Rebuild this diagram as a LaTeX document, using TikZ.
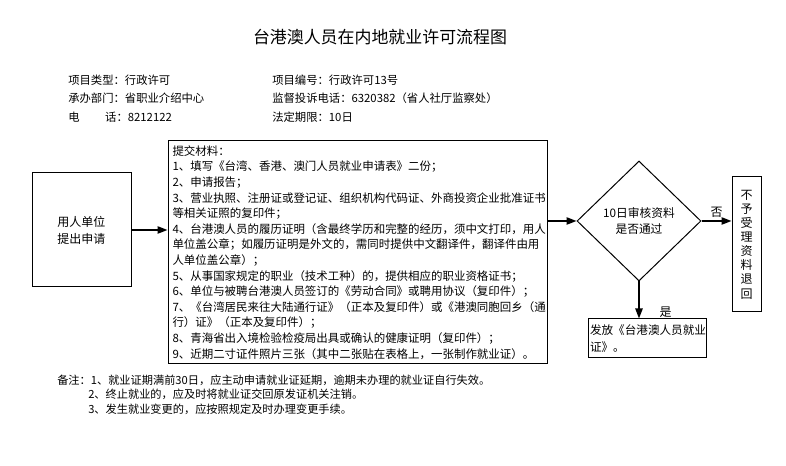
\documentclass[tikz,border=0pt]{standalone}
\usepackage{fontspec}
\setmainfont{Noto Sans CJK SC}
\usetikzlibrary{shapes.geometric,arrows.meta}
\begin{document}
\begin{tikzpicture}[x=0.75pt,y=-0.75pt,
  box/.style={draw, line width=0.75pt, inner sep=0},
  arr/.style={-{Triangle[length=7.5pt,width=5.5pt]}, line width=1.1pt},
  info/.style={inner sep=0, anchor=west, font=\fontsize{8.5pt}{10pt}\selectfont},
  note/.style={inner sep=0, anchor=west, font=\fontsize{8.4pt}{10pt}\selectfont},
  lbl/.style={inner sep=0, font=\fontsize{9pt}{10pt}\selectfont}]
\useasboundingbox[fill=white] (0,0) rectangle (786,466);

\node[inner sep=0, font=\fontsize{12.7pt}{14pt}\selectfont] (title) at (380,37) {台港澳人员在内地就业许可流程图};

\node[info] (i1) at (68,80) {项目类型：行政许可};
\node[info] (i2) at (68,98) {承办部门：省职业介绍中心};
\node[info] (i3) at (68,117) {电\hspace{19.2pt}话：8212122};
\node[info] (i4) at (272,80) {项目编号：行政许可13号};
\node[info] (i5) at (272,98) {监督投诉电话：6320382（省人社厅监察处）};
\node[info] (i6) at (272,117) {法定期限：10日};

\node[box, minimum width=74.25pt, minimum height=85.5pt, align=center,
      font=\fontsize{9pt}{12.75pt}\selectfont] (apply) at (81.5,230) {用人单位\\提出申请};

\node[box, minimum width=284.25pt, minimum height=167.25pt, text width=277.5pt, align=left,
      font=\fontsize{8.6pt}{11.7pt}\selectfont] (mat) at (357.5,252.5) {提交材料：\\
1、填写《台湾、香港、澳门人员就业申请表》二份；\\
2、申请报告；\\
3、营业执照、注册证或登记证、组织机构代码证、外商投资企业批准证书\\
等相关证照的复印件；\\
4、台港澳人员的履历证明（含最终学历和完整的经历，须中文打印，用人\\
单位盖公章；如履历证明是外文的，需同时提供中文翻译件，翻译件由用\\
人单位盖公章）；\\
5、从事国家规定的职业（技术工种）的，提供相应的职业资格证书；\\
6、单位与被聘台港澳人员签订的《劳动合同》或聘用协议（复印件）；\\
7、《台湾居民来往大陆通行证》（正本及复印件）或《港澳同胞回乡（通\\
行）证》（正本及复印件）；\\
8、青海省出入境检验检疫局出具或确认的健康证明（复印件）；\\
9、近期二寸证件照片三张（其中二张贴在表格上，一张制作就业证）。};

\node[box, diamond, minimum width=93pt, minimum height=90pt, align=center,
      font=\fontsize{8.8pt}{11.5pt}\selectfont] (check) at (639,221) {10日审核资料\\是否通过};

\node[box, minimum width=21.75pt, minimum height=101.25pt, align=center,
      font=\fontsize{9pt}{10.6pt}\selectfont] (reject) at (746.5,244.5) {不\\予\\受\\理\\资\\料\\退\\回};

\node[box, minimum width=88.5pt, minimum height=29.25pt, text width=85.5pt, align=left,
      font=\fontsize{8.7pt}{12.75pt}\selectfont] (issue) at (647,338.5) {发放《台港澳人员就业\\证》。};

\draw[arr] (apply.east) -- (apply.east -| mat.west);
\draw[arr] (check.west -| mat.east) -- (check.west);
\draw[arr] (check.east) -- (check.east -| reject.west)
  node[lbl, midway, above, yshift=2pt] (no) {否};
\draw[arr] (check.south) -- (check.south |- issue.north)
  node[lbl, pos=0.82, anchor=west, xshift=15pt] (yes) {是};

\node[note] (n1) at (57,380) {备注：1、就业证期满前30日，应主动申请就业证延期，逾期未办理的就业证自行失效。};
\node[note] (n2) at (88,394) {2、终止就业的，应及时将就业证交回原发证机关注销。};
\node[note] (n3) at (88,409) {3、发生就业变更的，应按照规定及时办理变更手续。};
\end{tikzpicture}
\end{document}
